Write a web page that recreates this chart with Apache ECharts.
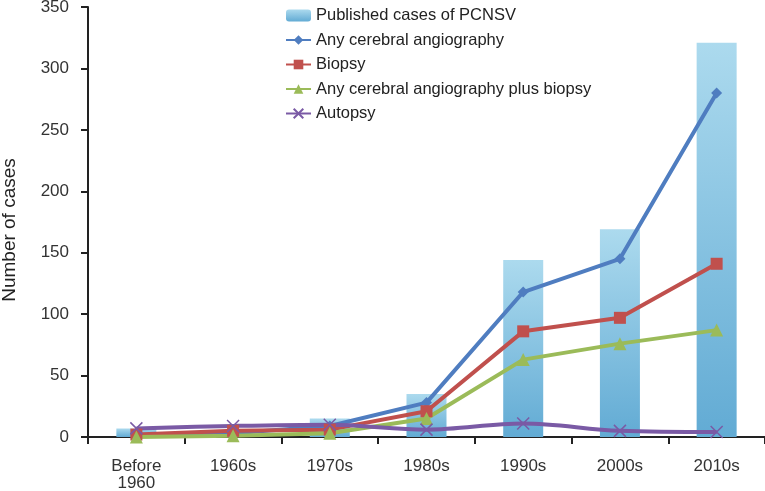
<!DOCTYPE html>
<html>
<head>
<meta charset="utf-8">
<script src="https://cdn.jsdelivr.net/npm/echarts@6/dist/echarts.min.js"></script>
<style>html,body{margin:0;padding:0;background:#fff}#c{width:765px;height:491px}</style>
</head>
<body>
<div id="c"></div>
<script>
const categories = ['Before\n1960', '1960s', '1970s', '1980s', '1990s', '2000s', '2010s'];
const published = [7, 3, 15, 35, 144, 169, 321];
const angiography = [1, 3, 9, 28, 118, 145, 280];
const biopsy = [2, 5, 6, 21, 86, 97, 141];
const angioBiopsy = [0, 1, 3, 15, 63, 76, 87];
const autopsy = [7, 9, 10, 6, 11, 5, 4];
const yTicks = [0, 50, 100, 150, 200, 250, 300, 350];

const chart = echarts.init(document.getElementById('c'));
const font = 'Liberation Sans, Arial, sans-serif';
const crossPath = 'path://M0,0L10,10M10,0L0,10';
function lineSeries(name, data, color, symbol, size, smooth) {
  return {
    name, type: 'line', data, smooth: smooth || false,
    symbol, symbolSize: size,
    lineStyle: { color, width: 4 },
    itemStyle: { color, borderColor: color, borderWidth: symbol === crossPath ? 1.5 : 0 },
    z: 3
  };
}
chart.setOption({
  animation: false,
  textStyle: { fontFamily: font },
  grid: { left: 88, right: 0, top: 7, bottom: 54, containLabel: false, outerBoundsMode: 'none' },
  legend: {
    orient: 'vertical', left: 280, top: 2,
    itemWidth: 25, itemHeight: 12, itemGap: 7.5,
    textStyle: { fontSize: 16.5, color: '#222', fontFamily: font },
    data: ['Published cases of PCNSV', 'Any cerebral angiography', 'Biopsy', 'Any cerebral angiography plus biopsy', 'Autopsy']
  },
  xAxis: {
    type: 'category', data: categories,
    axisLine: { lineStyle: { color: '#222', width: 2 } },
    axisTick: { show: true, length: 7, lineStyle: { color: '#222', width: 2 } },
    axisLabel: { fontSize: 17, color: '#333', margin: 21, lineHeight: 17, fontFamily: font }
  },
  yAxis: {
    type: 'value', min: 0, max: 350, interval: 50,
    name: 'Number of cases', nameLocation: 'middle', nameGap: 69, nameRotate: 90,
    nameTextStyle: { fontSize: 19, color: '#222', fontFamily: font, padding: [0, 16, 0, 0] },
    axisLine: { show: true, lineStyle: { color: '#222', width: 2 } },
    axisTick: { show: true, length: 7, lineStyle: { color: '#222', width: 2 } },
    axisLabel: { fontSize: 17, color: '#333', margin: 19, fontFamily: font,
      formatter: v => yTicks.includes(v) ? String(v) : '' },
    splitLine: { show: false }
  },
  series: [
    {
      name: 'Published cases of PCNSV', type: 'bar', data: published, barWidth: 40,
      itemStyle: {
        color: new echarts.graphic.LinearGradient(0, 0, 0, 1, [
          { offset: 0, color: '#acdaee' },
          { offset: 1, color: '#62abd4' }
        ])
      },
      z: 1
    },
    lineSeries('Any cerebral angiography', angiography, '#4f7dc0', 'diamond', 11),
    lineSeries('Biopsy', biopsy, '#c0504d', 'rect', 12),
    lineSeries('Any cerebral angiography plus biopsy', angioBiopsy, '#9bbb59', 'triangle', 13),
    lineSeries('Autopsy', autopsy, '#7a5aa5', crossPath, 12, 0.35)
  ]
});
</script>
</body>
</html>
